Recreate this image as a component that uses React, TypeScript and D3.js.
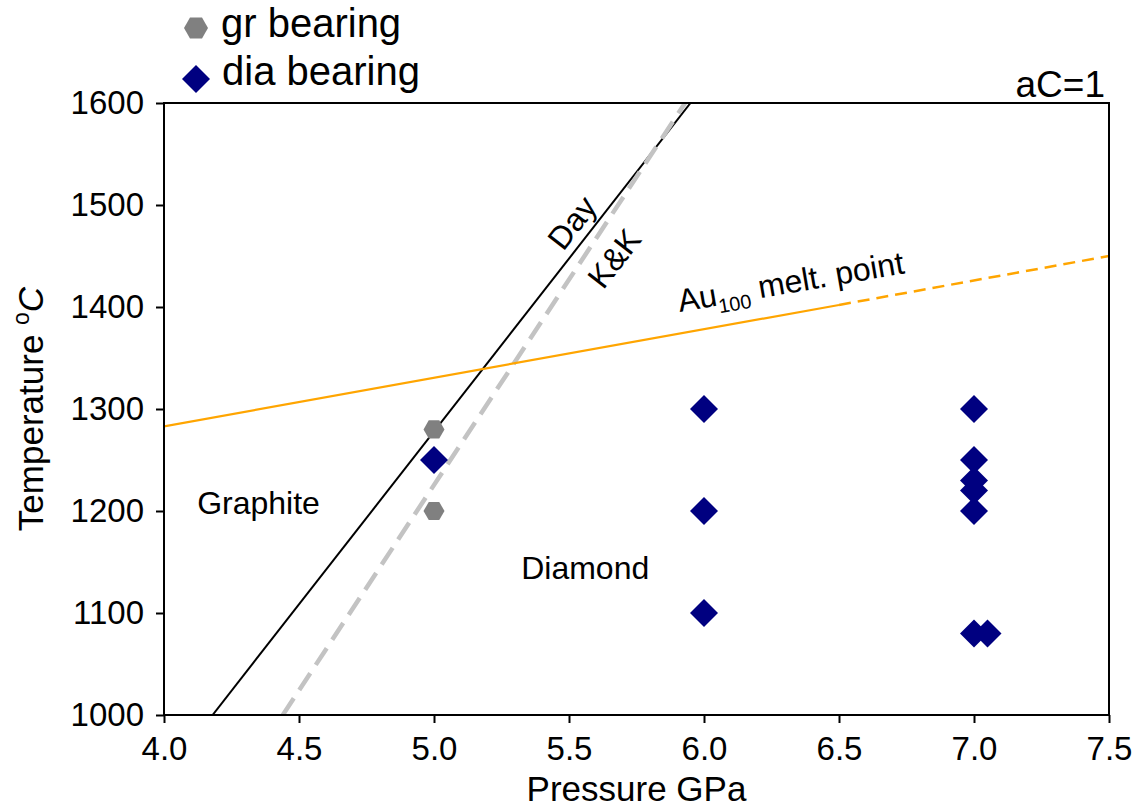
import React, { useEffect, useRef } from 'react';
import * as d3 from 'd3';

// values
const xTicks = [4.0, 4.5, 5.0, 5.5, 6.0, 6.5, 7.0, 7.5];
const yTicks = [1000, 1100, 1200, 1300, 1400, 1500, 1600];

const grBearing: [number, number][] = [
  [5.0, 1280],
  [5.0, 1200],
];
const diaBearing: [number, number][] = [
  [5.0, 1250],
  [6.0, 1300],
  [6.0, 1200],
  [6.0, 1100],
  [7.0, 1300],
  [7.0, 1250],
  [7.0, 1230],
  [7.0, 1220],
  [7.0, 1200],
  [7.0, 1080],
  [7.05, 1080],
];

const dayLine: [number, number][] = [[4.18, 1000], [5.95, 1600]];
const kkLine: [number, number][] = [[4.44, 1000], [5.93, 1600]];
const auSolid: [number, number][] = [[4.0, 1283], [6.5, 1402]];
const auDashed: [number, number][] = [[6.5, 1402], [7.5, 1450]];

const FONT = '"Liberation Sans", Arial, Helvetica, sans-serif';

const App = () => {
  const svgRef = useRef<SVGSVGElement>(null);

  useEffect(() => {
    const width = 1140;
    const height = 808;
    const margin = { top: 103, right: 31, bottom: 93, left: 164 };

    const svg = d3.select(svgRef.current);
    svg.selectAll('*').remove();
    svg.attr('width', width).attr('height', height);

    const x = d3.scaleLinear().domain([4.0, 7.5]).range([margin.left, width - margin.right]);
    const y = d3.scaleLinear().domain([1000, 1600]).range([height - margin.bottom, margin.top]);

    const line = d3.line<[number, number]>()
      .x(d => x(d[0]))
      .y(d => y(d[1]));

    const clipId = 'plot-clip';
    svg.append('clipPath').attr('id', clipId)
      .append('rect')
      .attr('x', x(4)).attr('y', y(1600))
      .attr('width', x(7.5) - x(4)).attr('height', y(1000) - y(1600));

    const plot = svg.append('g').attr('clip-path', `url(#${clipId})`);

    plot.append('path').datum(dayLine)
      .attr('d', line).attr('fill', 'none')
      .attr('stroke', '#000').attr('stroke-width', 2);

    plot.append('path').datum(kkLine)
      .attr('d', line).attr('fill', 'none')
      .attr('stroke', '#c3c3c3').attr('stroke-width', 4.5)
      .attr('stroke-dasharray', '20,10');

    plot.append('path').datum(auSolid)
      .attr('d', line).attr('fill', 'none')
      .attr('stroke', '#ffa500').attr('stroke-width', 2.2);

    plot.append('path').datum(auDashed)
      .attr('d', line).attr('fill', 'none')
      .attr('stroke', '#ffa500').attr('stroke-width', 2.5)
      .attr('stroke-dasharray', '12,7');

    // markers
    const hexPath = (r: number) => {
      const pts = d3.range(6).map(i => {
        const a = (Math.PI / 3) * i;
        return [r * Math.cos(a), r * Math.sin(a)];
      });
      return 'M' + pts.map(p => p.join(',')).join('L') + 'Z';
    };
    const diaPath = (r: number) => `M0,${-r}L${r},0L0,${r}L${-r},0Z`;

    svg.append('g').selectAll('path')
      .data(grBearing)
      .enter()
      .append('path')
      .attr('transform', d => `translate(${x(d[0])},${y(d[1])})`)
      .attr('d', hexPath(10.5))
      .attr('fill', '#808080');

    svg.append('g').selectAll('path')
      .data(diaBearing)
      .enter()
      .append('path')
      .attr('transform', d => `translate(${x(d[0])},${y(d[1])})`)
      .attr('d', diaPath(14))
      .attr('fill', '#000080');

    // frame
    svg.append('rect')
      .attr('x', x(4)).attr('y', y(1600))
      .attr('width', x(7.5) - x(4)).attr('height', y(1000) - y(1600))
      .attr('fill', 'none').attr('stroke', '#000').attr('stroke-width', 2);

    const xAxis = svg.append('g')
      .attr('transform', `translate(0,${y(1000)})`)
      .call(d3.axisBottom(x).tickValues(xTicks).tickFormat(d3.format('.1f')).tickSize(8).tickPadding(14));
    const yAxis = svg.append('g')
      .attr('transform', `translate(${x(4)},0)`)
      .call(d3.axisLeft(y).tickValues(yTicks).tickFormat(d3.format('d')).tickSize(8).tickPadding(12));

    [xAxis, yAxis].forEach(g => {
      g.select('.domain').remove();
      g.selectAll('line').attr('stroke', '#000').attr('stroke-width', 2);
      g.selectAll('text').attr('font-family', FONT).attr('font-size', 33).attr('fill', '#000');
    });

    // axis titles
    svg.append('text')
      .attr('x', (x(4) + x(7.5)) / 2)
      .attr('y', 801)
      .attr('text-anchor', 'middle')
      .attr('font-family', FONT).attr('font-size', 35)
      .text('Pressure GPa');

    const yl = svg.append('text')
      .attr('transform', `translate(43,${(y(1000) + y(1600)) / 2}) rotate(-90)`)
      .attr('text-anchor', 'middle')
      .attr('font-family', FONT).attr('font-size', 35);
    yl.append('tspan').text('Temperature ');
    yl.append('tspan').attr('font-size', 23).attr('dy', -14).text('o');
    yl.append('tspan').attr('font-style', 'italic').attr('dy', 14).text('C');

    // annotations
    const ann = (txt: string, px: number, py: number, rot = 0, size = 32) =>
      svg.append('text')
        .attr('transform', `translate(${px},${py}) rotate(${rot})`)
        .attr('text-anchor', 'middle')
        .attr('font-family', FONT).attr('font-size', size)
        .text(txt);

    ann('Graphite', x(4.35), y(1197));
    ann('Diamond', x(5.56), y(1133));
    ann('Day', x(5.544), y(1476), -52);
    ann('K&K', x(5.70), y(1441), -52);

    const au = svg.append('text')
      .attr('transform', `translate(${x(5.91)},${y(1395)}) rotate(-9.8)`)
      .attr('font-family', FONT).attr('font-size', 32);
    au.append('tspan').text('Au');
    au.append('tspan').attr('font-size', 20).attr('dy', 8).text('100');
    au.append('tspan').attr('dy', -8).text(' melt. point');

    svg.append('text')
      .attr('x', x(7.5) - 4).attr('y', 97)
      .attr('text-anchor', 'end')
      .attr('font-family', FONT).attr('font-size', 37)
      .text('aC=1');

    // legend
    const legend = svg.append('g');
    legend.append('path')
      .attr('transform', 'translate(196,28)')
      .attr('d', hexPath(12)).attr('fill', '#808080');
    legend.append('text').attr('x', 221).attr('y', 37)
      .attr('font-family', FONT).attr('font-size', 40).text('gr bearing');
    legend.append('path')
      .attr('transform', 'translate(196,79)')
      .attr('d', diaPath(14)).attr('fill', '#000080');
    legend.append('text').attr('x', 222).attr('y', 85)
      .attr('font-family', FONT).attr('font-size', 40).text('dia bearing');
  }, []);

  return (
    <svg ref={svgRef} style={{ position: 'absolute', left: 0, top: 0, background: '#fff' }} />
  );
};

export default App;
